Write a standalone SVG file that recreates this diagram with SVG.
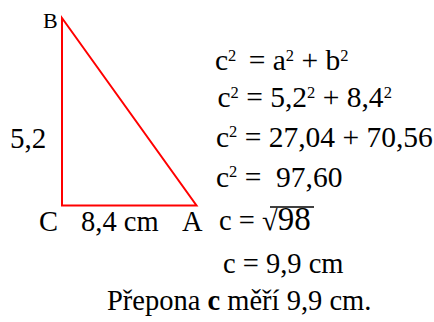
<svg xmlns="http://www.w3.org/2000/svg" width="434" height="322" viewBox="0 0 434 322">
<style>
text{font-family:"Liberation Serif","Times New Roman",serif;fill:#000;font-size:28.5px}
.eq{font-size:29.5px}
.sup{font-size:16.5px}
.edge{fill:none;stroke:#ff0000;stroke-width:2}
</style>
<rect width="434" height="322" fill="#fff"/>
<g id="triangle">
<polygon class="edge" points="62,18 62,205.5 196.5,205.5"/>
</g>
<g id="labels">
<text x="43" y="27.5" style="font-size:22px">B</text>
<text x="10" y="148.3" style="font-size:29px">5,2</text>
<text x="39" y="230.7">C</text>
<text x="81" y="230.7">8,4 cm</text>
<text x="182" y="230.7">A</text>
</g>
<g id="equations">
<text class="eq" x="215" y="70">c<tspan class="sup" dy="-9.5">2</tspan><tspan dy="9.5" dx="5"> = a</tspan><tspan class="sup" dy="-9.5">2</tspan><tspan dy="9.5"> + b</tspan><tspan class="sup" dy="-9.5">2</tspan></text>
<text class="eq" x="217.5" y="107.3">c<tspan class="sup" dy="-9.5">2</tspan><tspan dy="9.5"> = 5,2</tspan><tspan class="sup" dy="-9.5">2</tspan><tspan dy="9.5"> + 8,4</tspan><tspan class="sup" dy="-9.5">2</tspan></text>
<text class="eq" x="216" y="146.7">c<tspan class="sup" dy="-9.5">2</tspan><tspan dy="9.5"> = 27,04 + 70,56</tspan></text>
<text class="eq" x="216" y="186.7" xml:space="preserve">c<tspan class="sup" dy="-9.5">2</tspan><tspan dy="9.5"> =  97,60</tspan></text>
<text x="219" y="230">c = √<tspan style="font-size:33px">98</tspan></text>
<line x1="270" y1="207" x2="314" y2="207" stroke="#000" stroke-width="1.5"/>
<text x="223" y="273.3">c = 9,9 cm</text>
<text x="107" y="309.5">Přepona <tspan font-weight="bold">c</tspan> měří 9,9 cm.</text>
</g>
</svg>
